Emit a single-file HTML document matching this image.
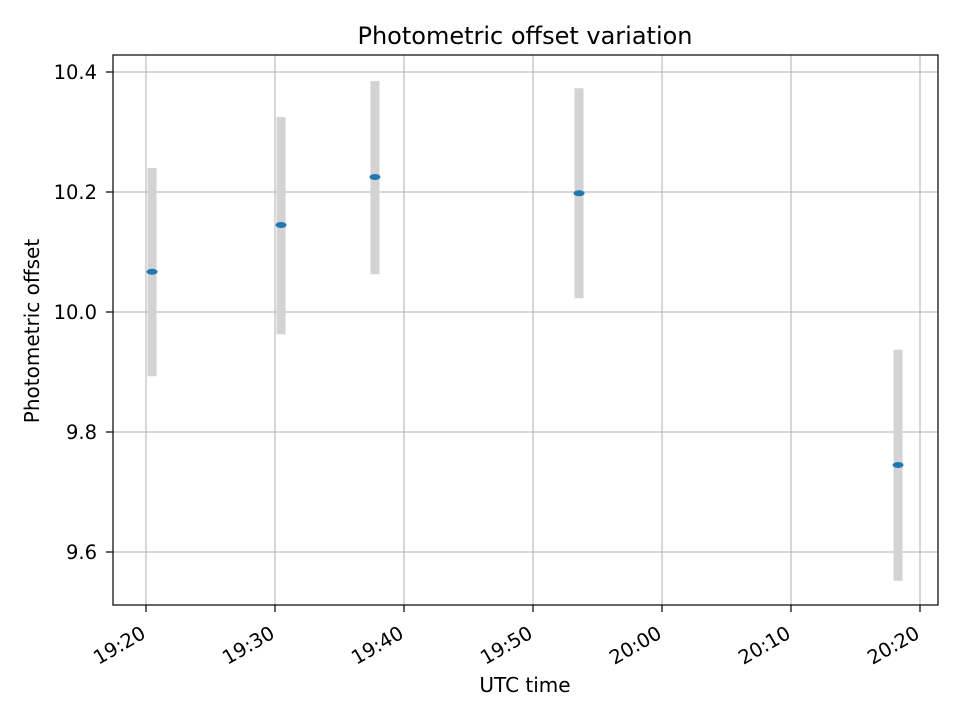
<!DOCTYPE html>
<html><head><meta charset="utf-8"><style>
body{margin:0;background:#fff;font-family:"Liberation Sans","DejaVu Sans",sans-serif;}
</style></head><body>
<svg width="960" height="720" viewBox="0 0 960 720" font-family="'DejaVu Sans','Liberation Sans',sans-serif">
<g id="grid"></g>
<g id="bars"></g>
<g id="pts"></g>
<rect x="113" y="55" width="825" height="550" fill="none" stroke="#000" stroke-width="1.2"/>
<g id="ticks"></g>
<text x="525" y="44" text-anchor="middle" font-size="24">Photometric offset variation</text>
<text x="525" y="692" text-anchor="middle" font-size="20">UTC time</text>
<text transform="translate(39,331) rotate(-90)" text-anchor="middle" font-size="20">Photometric offset</text>
</svg>
<script>
const times=[1160.47,1170.47,1177.75,1193.57,1218.3]; // minutes since midnight
const values=[10.067,10.145,10.225,10.198,9.745];
const errLow=[9.893,9.963,10.063,10.023,9.552];
const errHigh=[10.24,10.325,10.385,10.373,9.937];
const yTicks=[9.6,9.8,10.0,10.2,10.4];
const yTickLabels=["9.6","9.8","10.0","10.2","10.4"];
const xTicks=[1160,1170,1180,1190,1200,1210,1220];
const xTickLabels=["19:20","19:30","19:40","19:50","20:00","20:10","20:20"];
const NS="http://www.w3.org/2000/svg";
const X=t=>146+(t-1160)*12.9;
const Y=v=>312-(v-10)*600;
function mk(p,tag,a){const e=document.createElementNS(NS,tag);for(const k in a)e.setAttribute(k,a[k]);document.getElementById(p).appendChild(e);return e;}
yTicks.forEach((v,i)=>{
 const g=mk('grid','line',{x1:113,x2:938,y1:Y(v),y2:Y(v),stroke:'#b0b0b0','stroke-width':1});
 
 
 const t=mk('ticks','line',{x1:106,x2:113,y1:Y(v),y2:Y(v),stroke:'#000','stroke-width':1.2});
 
 
 const l=mk('ticks','text',{x:97,y:Y(v)+7,'text-anchor':'end','font-size':19.5});
 l.textContent=yTickLabels[i];
 
 
});
xTicks.forEach((t0,i)=>{
 const x=X(t0);
 const g=mk('grid','line',{x1:x,x2:x,y1:55,y2:605,stroke:'#b0b0b0','stroke-width':1});
 
 
 const t=mk('ticks','line',{x1:x,x2:x,y1:605,y2:612,stroke:'#000','stroke-width':1.2});
 
 
 const l=mk('ticks','text',{transform:`translate(${x+1},637) rotate(-30)`,'text-anchor':'end','font-size':19.5});
 l.textContent=xTickLabels[i];
 
 
});
times.forEach((t0,i)=>{
 const x=X(t0);
 const b=mk('bars','line',{x1:x,x2:x,y1:Y(errHigh[i]),y2:Y(errLow[i]),stroke:'#d3d3d3','stroke-width':9});
 
 
 const p=mk('pts','ellipse',{cx:x,cy:Y(values[i]),rx:5.5,ry:3,fill:'#1f77b4'});
 
 
});
</script>
</body></html>
